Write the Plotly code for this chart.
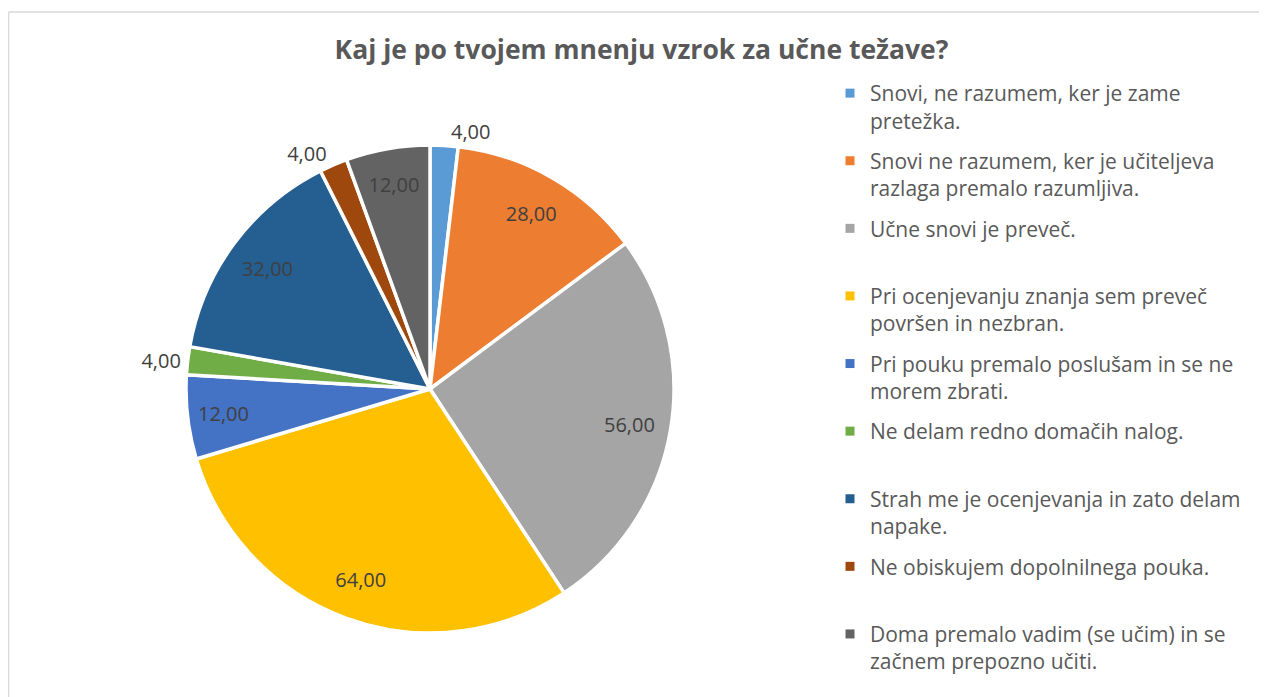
import plotly.graph_objects as go

title_text = "Kaj je po tvojem mnenju vzrok za učne težave?"

categories = [
    "Snovi, ne razumem, ker je zame<br>pretežka.",
    "Snovi ne razumem, ker je učiteljeva<br>razlaga premalo razumljiva.",
    "Učne snovi je preveč.<br> ",
    "Pri ocenjevanju znanja sem preveč<br>površen in nezbran.",
    "Pri pouku premalo poslušam in se ne<br>morem zbrati.",
    "Ne delam redno domačih nalog.<br> ",
    "Strah me je ocenjevanja in zato delam<br>napake.",
    "Ne obiskujem dopolnilnega pouka.<br> ",
    "Doma premalo vadim (se učim) in se<br>začnem prepozno učiti.",
]
values = [4, 28, 56, 64, 12, 4, 32, 4, 12]
colors = ["#5B9BD5", "#ED7D31", "#A5A5A5", "#FFC000", "#4472C4",
          "#70AD47", "#255E91", "#9E480E", "#636363"]
label_positions = ["outside", "inside", "inside", "inside", "inside",
                   "outside", "inside", "outside", "inside"]

FONT = "Open Sans"
W, H = 1267, 697
OFF = 8  # page body margin
cx, cy, r = 430 - OFF, 389 - OFF, 244
dom_x = [(cx - r) / W, (cx + r) / W]
dom_y = [(H - cy - r) / H, (H - cy + r) / H]

fig = go.Figure()

# main pie (colours + white separators)
fig.add_trace(go.Pie(
    labels=categories, values=values, sort=False, direction="clockwise",
    rotation=0, marker=dict(colors=colors, line=dict(color="white", width=3.5)),
    textinfo="none", showlegend=False, domain=dict(x=dom_x, y=dom_y),
    hoverinfo="label+value",
))

# transparent ring on top carrying the data labels near the rim
fig.add_trace(go.Pie(
    labels=categories, values=values, sort=False, direction="clockwise",
    rotation=0, hole=0.66,
    marker=dict(colors=["rgba(0,0,0,0)"] * len(values), line=dict(width=0)),
    texttemplate="%{value:.2f}", textposition=label_positions,
    insidetextorientation="horizontal",
    textfont=dict(family=FONT, size=20, color="#404040"),
    insidetextfont=dict(family=FONT, size=20, color="#404040"),
    outsidetextfont=dict(family=FONT, size=20, color="#404040"),
    showlegend=False, domain=dict(x=dom_x, y=dom_y), hoverinfo="skip",
))

# legend entries
for i, (cat, col) in enumerate(zip(categories, colors)):
    fig.add_trace(go.Scatter(
        x=[None], y=[None], mode="markers", name=cat,
        marker=dict(symbol="square", size=9, color=col),
        legendgroup=str(i), showlegend=True,
    ))

border = dict(color="#D9D9D9", width=1.3)
fig.update_layout(
    width=W, height=H,
    margin=dict(l=0, r=0, t=0, b=0),
    paper_bgcolor="white", plot_bgcolor="white",
    separators=", ",
    uniformtext=dict(minsize=20, mode="show"),
    title=dict(text="<b>" + title_text + "</b>", x=0.500, xanchor="center",
               y=(H - 42) / H, yanchor="middle",
               font=dict(family=FONT, size=26.5, color="#595959")),
    xaxis=dict(visible=False), yaxis=dict(visible=False),
    legend=dict(x=822 / W, xanchor="left", y=(H - 65) / H, yanchor="top",
                font=dict(family=FONT, size=21, color="#595959"),
                tracegroupgap=10, valign="top", bgcolor="rgba(0,0,0,0)"),
    shapes=[
        dict(type="line", xref="paper", yref="paper",
             x0=0.6 / W, x1=1.05, y0=(H - 4) / H, y1=(H - 4) / H,
             line=border, layer="below"),
        dict(type="line", xref="paper", yref="paper",
             x0=0.6 / W, x1=0.6 / W, y0=-0.05, y1=(H - 4) / H,
             line=border, layer="below"),
    ],
)

fig.write_html("out.html")
